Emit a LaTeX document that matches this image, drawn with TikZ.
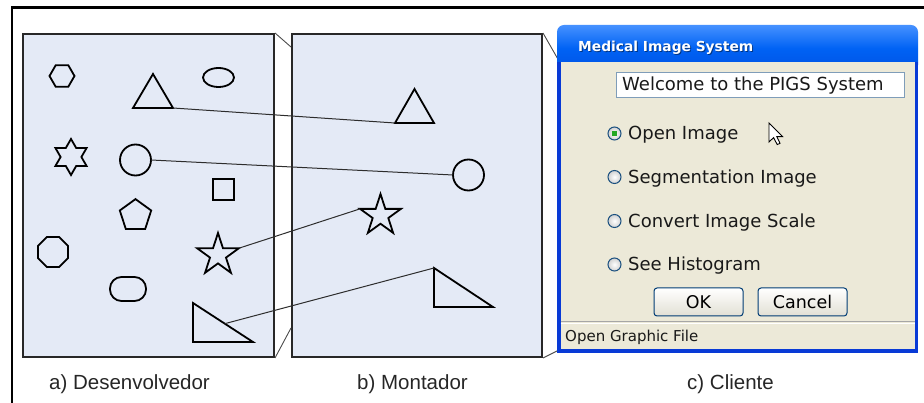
\documentclass[tikz,border=0pt]{standalone}
\usepackage{fontspec}
\setmainfont{Liberation Sans}
\newfontfamily\uifont{DejaVu Sans}
\usetikzlibrary{shapes.geometric,calc}

\definecolor{panelfill}{RGB}{228,234,246}
\definecolor{panelline}{RGB}{40,40,40}
\definecolor{linkline}{RGB}{45,45,45}
\definecolor{winframe}{RGB}{8,58,214}
\definecolor{titletop}{RGB}{70,145,255}
\definecolor{titlemid}{RGB}{0,98,244}
\definecolor{titlebot}{RGB}{0,82,228}
\definecolor{winbody}{RGB}{236,233,216}
\definecolor{fieldline}{RGB}{127,157,185}
\definecolor{radioline}{RGB}{28,81,128}
\definecolor{radiodot}{RGB}{36,168,36}
\definecolor{btnline}{RGB}{0,60,116}
\definecolor{btnbot}{RGB}{226,224,212}

\begin{document}
\begin{tikzpicture}[x=1pt,y=-1pt,
  panel/.style={draw=panelline, line width=2pt, fill=panelfill, inner sep=0pt, anchor=north west},
  figline/.style={draw=black, line width=1.8pt, inner sep=0pt, outer sep=0pt},
  link/.style={draw=linkline, line width=1pt},
  persp/.style={draw=black!70, line width=0.9pt},
  caption/.style={font=\fontsize{20.5}{24}\selectfont, text=black!85, anchor=base, inner sep=0pt},
  uitext/.style={font=\uifont\fontsize{18}{21}\selectfont, text=black!90, anchor=base west, inner sep=0pt},
  radio/.style={circle, draw=radioline, line width=1pt, inner color=white, outer color=black!18, minimum size=13pt, inner sep=0pt},
  button/.style={draw=btnline, line width=1pt, rounded corners=3pt, top color=white, bottom color=btnbot,
    minimum width=89pt, minimum height=28pt, inner sep=0pt, font=\uifont\fontsize{17.5}{21}\selectfont}
]
\useasboundingbox (0,0) rectangle (924,403);

% outer frame: top and left rules
\draw[line width=2.5pt] (12,403) -- (12,7.5) -- (924,7.5);

% ---------- panels ----------
\node[panel, minimum width=251pt, minimum height=323pt] (pa) at (22,33) {};
\node[panel, minimum width=250pt, minimum height=323pt] (pb) at (291,33) {};

% perspective edges between the panels
\coordinate (pbtop) at (291,47);
\coordinate (pbbot) at (291,328);
\coordinate (wintop) at (559,61);
\coordinate (winbot) at (559,350);
\draw[persp] (pa.north east) -- (pbtop);
\draw[persp] (pa.south east) -- (pbbot);
\draw[persp] (pb.north east) -- (wintop);
\draw[persp] (pb.south east) -- (winbot);

% ---------- shapes of the developer panel ----------
\node[figline, regular polygon, regular polygon sides=6, minimum size=25pt] (hexa) at (62,76) {};
\coordinate (ta1) at (133,108);
\coordinate (ta2) at (173,108);
\coordinate (ta3) at (153,74);
\draw[figline] (ta1) -- (ta2) -- (ta3) -- cycle;
\node[figline, ellipse, minimum width=31pt, minimum height=19pt] (ella) at (218.5,77.5) {};
\node[figline, star, star points=6, star point ratio=1.732, minimum size=36pt] (hexstar) at (71,157) {};
\node[figline, circle, minimum size=31pt] (cira) at (135.5,160) {};
\node[figline, rectangle, minimum size=21pt] (sqa) at (223.5,189.5) {};
\node[figline, regular polygon, regular polygon sides=5, minimum size=33pt] (pena) at (135.5,215.6) {};
\node[figline, regular polygon, regular polygon sides=8, minimum size=32.4pt] (octa) at (53,252) {};
\node[figline, star, star points=5, star point ratio=2.618, minimum size=44pt] (stara) at (218,255) {};
\node[figline, rectangle, rounded corners=11.5pt, minimum width=36pt, minimum height=24pt] (stad) at (128,289) {};
\coordinate (rta1) at (193,303);
\coordinate (rta2) at (193,342);
\coordinate (rta3) at (253,342);
\draw[figline] (rta1) -- (rta2) -- (rta3) -- cycle;

% ---------- shapes of the assembler panel ----------
\coordinate (tb1) at (395,123);
\coordinate (tb2) at (434,123);
\coordinate (tb3) at (414.5,89);
\draw[figline] (tb1) -- (tb2) -- (tb3) -- cycle;
\node[figline, circle, minimum size=31pt] (cirb) at (468.5,175) {};
\node[figline, star, star points=5, star point ratio=2.618, minimum size=43pt] (starb) at (380.5,215.5) {};
\coordinate (rtb1) at (434,268);
\coordinate (rtb2) at (434,307);
\coordinate (rtb3) at (493,307);
\draw[figline] (rtb1) -- (rtb2) -- (rtb3) -- cycle;

% ---------- links between the two panels ----------
\coordinate (rtamid) at ($(rta1)!0.53!(rta3)$);
\draw[link] (ta2) -- (tb1);
\draw[link] (cira.east) -- (cirb.west);
\draw[link] (stara.outer point 5) -- (starb.outer point 2);
\draw[link] (rtamid) -- (rtb1);

% ---------- client window ----------
\shade[top color=titletop, bottom color=titlebot, middle color=titlemid, rounded corners=7pt]
  (557,25) rectangle (918,72);
\fill[winframe] (557,62) rectangle (918,353);
\fill[winbody] (560.5,62) rectangle (914.5,349.5);

\node[font=\uifont\bfseries\fontsize{13.8}{16}\selectfont, text=black, opacity=0.45,
  anchor=base west, inner sep=0pt] (titleshade) at (579,53) {Medical Image System};
\node[font=\uifont\bfseries\fontsize{13.8}{16}\selectfont, text=white,
  anchor=base west, inner sep=0pt] (wintitle) at (578,52) {Medical Image System};

\node[draw=fieldline, fill=white, line width=1pt, minimum width=288pt, minimum height=25pt,
  anchor=north west, inner sep=0pt] (field) at (616,72) {};
\node[uitext] (welcome) at (622,91) {Welcome to the PIGS System};

\node[radio] (r1) at (614.5,133.5) {};
\node[fill=radiodot, minimum size=5pt, inner sep=0pt] (r1dot) at (r1) {};
\node[uitext] (l1) at (628,140) {Open Image};
\node[radio] (r2) at (614.5,177) {};
\node[uitext] (l2) at (628,183.5) {Segmentation Image};
\node[radio] (r3) at (614.5,221) {};
\node[uitext] (l3) at (628,227.5) {Convert Image Scale};
\node[radio] (r4) at (614.5,264.5) {};
\node[uitext] (l4) at (628,271) {See Histogram};

\node[button] (ok) at (698.5,302) {OK};
\node[button] (cancel) at (802.5,302) {Cancel};

% status bar
\draw[black!35, line width=1pt] (560.5,322) -- (914.5,322);
\draw[white, line width=1pt] (560.5,323.2) -- (914.5,323.2);
\node[font=\uifont\fontsize{15}{18}\selectfont, text=black!90, anchor=base west, inner sep=0pt]
  (status) at (565,342) {Open Graphic File};

% mouse pointer
\coordinate (cur) at (769,123);
\draw[fill=white, line width=0.9pt, line join=miter, shift={(cur)}]
  (0,0) -- (0,19) -- (4.6,14.6) -- (8.2,21.6) -- (11,20.3) -- (7.8,13.6) -- (13.6,13.6) -- cycle;

% ---------- captions ----------
\node[caption] (capa) at (129.5,389) {a) Desenvolvedor};
\node[caption] (capb) at (412.5,389) {b) Montador};
\node[caption] (capc) at (730.5,389) {c) Cliente};
\end{tikzpicture}
\end{document}
